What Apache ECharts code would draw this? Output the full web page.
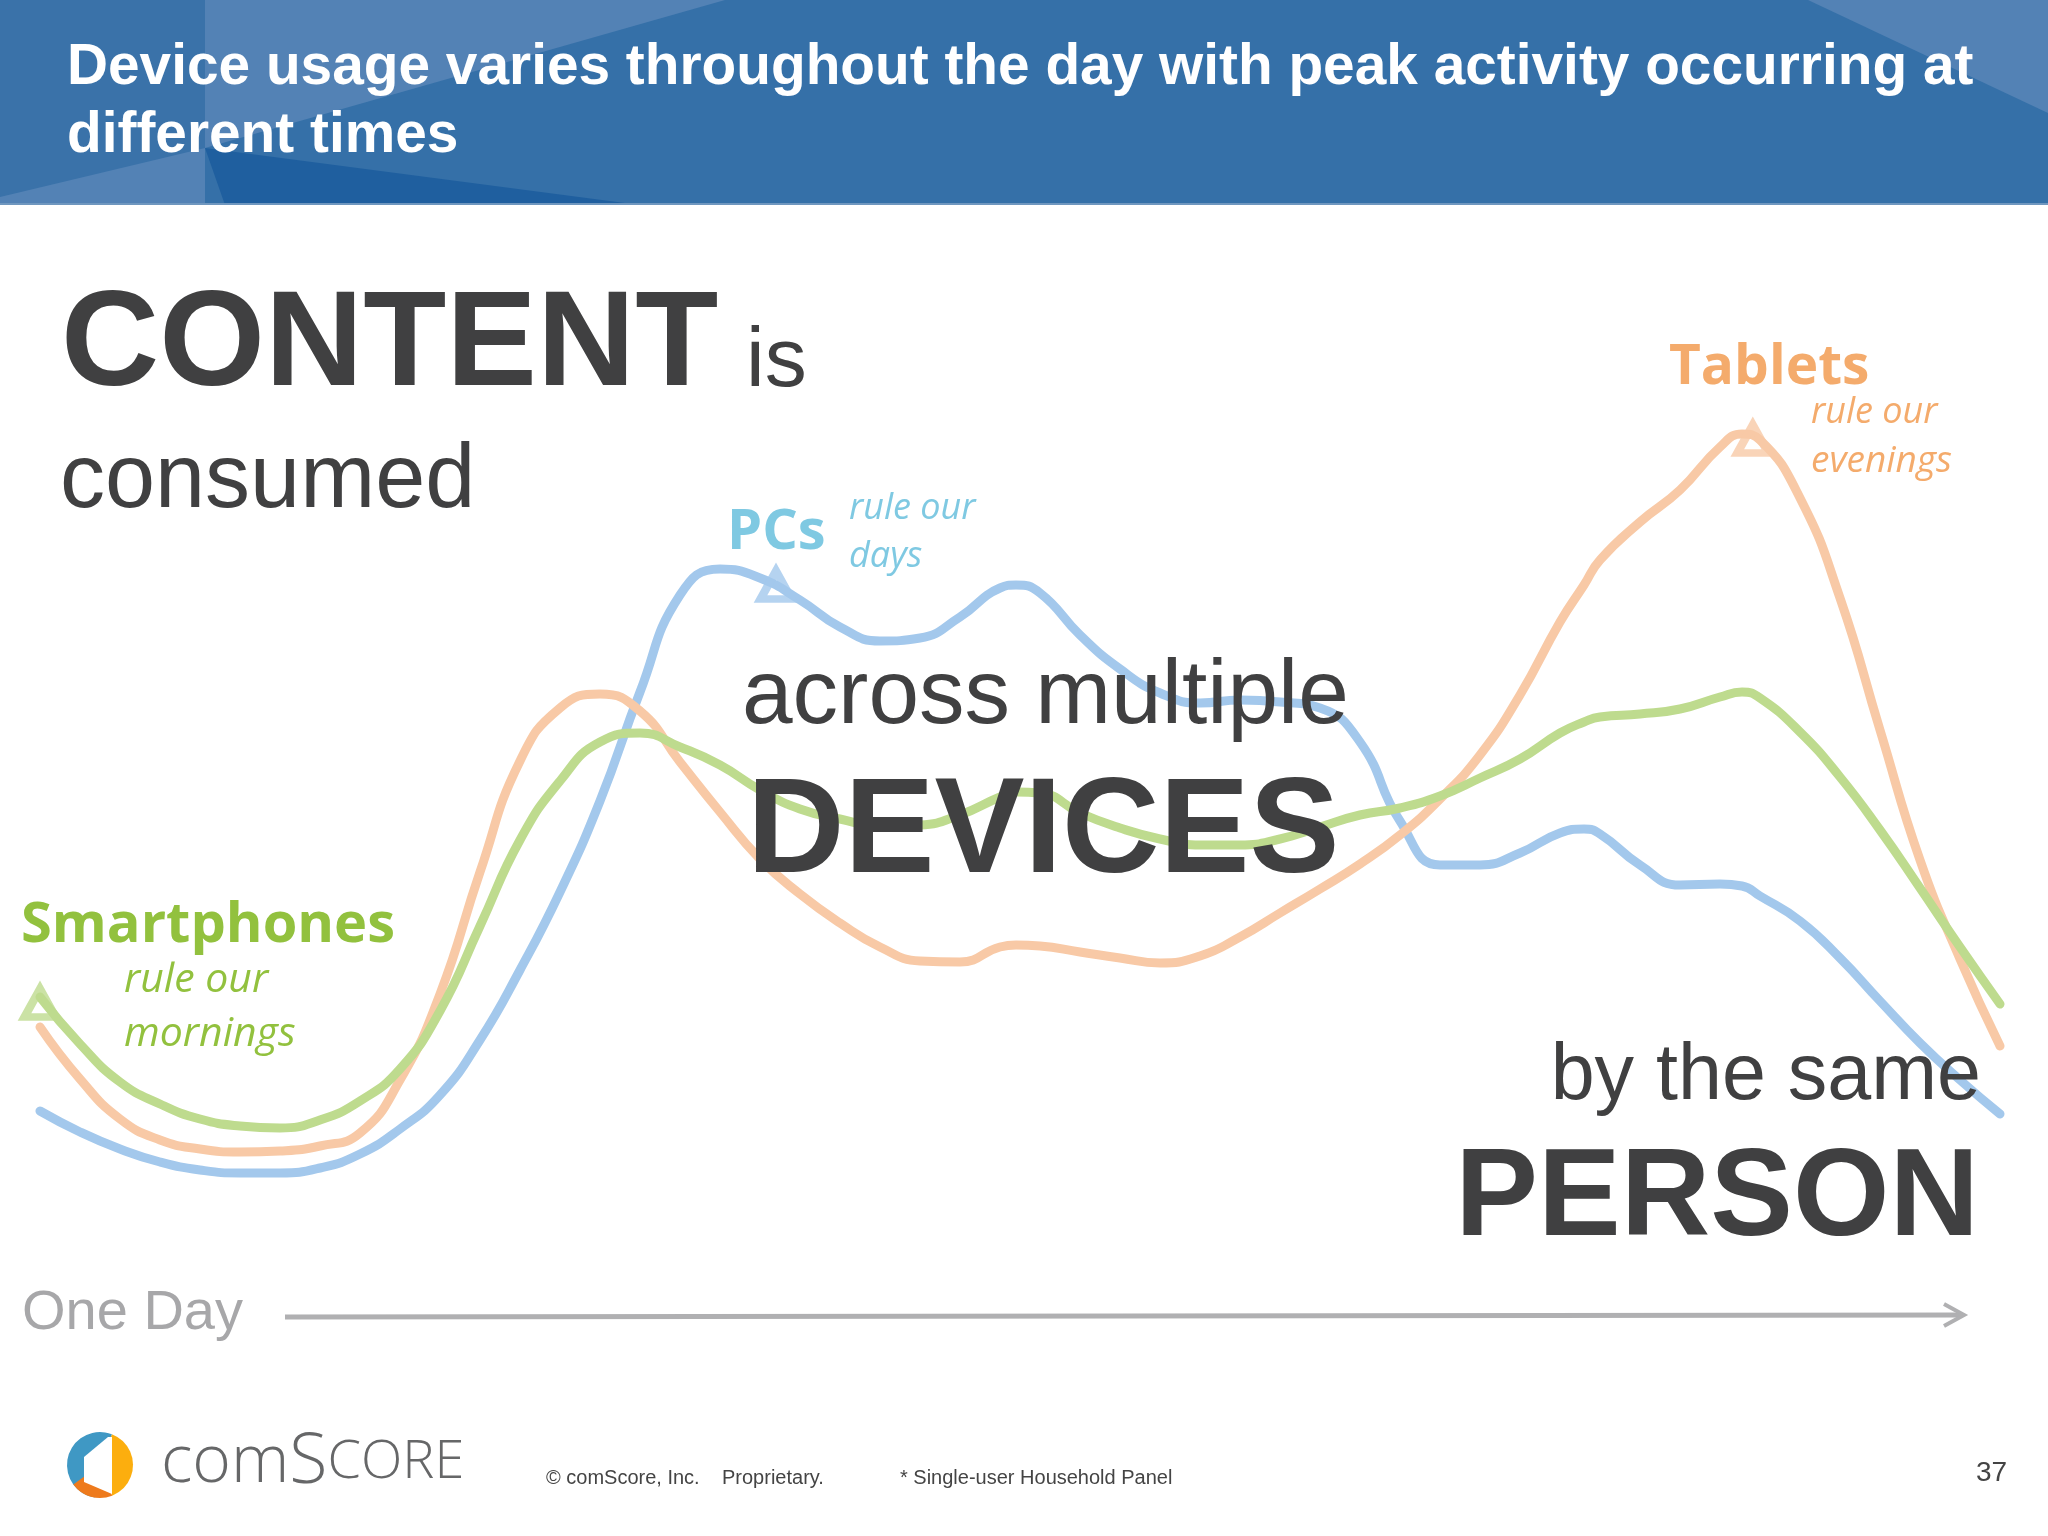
<!doctype html>
<html lang="en">
<head>
<meta charset="UTF-8">
<title>Device usage</title>
<script src="https://cdn.jsdelivr.net/npm/echarts@6/dist/echarts.min.js"></script>
<style>
html,body{margin:0;padding:0;background:#fff}
#main{width:2048px;height:1536px}
</style>
</head>
<body>
<div id="main"></div>
<script>
// time of day, left to right, with extra readings at the humps
var slots = [0,1,2,3,4,5,6,7,8,9,10,11,12,13,14,15,16,17,18,19,20,21,22,23,24,24.4,25,26,27,28,29,30,31,32,33,34,35,36,37,38,38.6,39,40,41,42,42.55,43,44,45,46,47,48,49];
// activity, no unit in the source
var pcs = [425,404,387,374,366,363,363,368,382,407,441,496,566,644,735,844,941,967,958,936,909,895,898,919,948,951,943,901,867,843,833,836,834,828,794,715,671,671,683,703,707,702,671,651,652,650,640,615,578,535,493,456,422];
var tablets = [509,457,417,396,387,384,385,390,403,456,542,664,775,828,842,825,774,724,677,642,613,589,575,574,589,591,590,584,578,573,580,599,623,647,672,701,737,781,841,914,951,976,1014,1046,1089,1102,1096,1038,938,806,676,577,490];
var smartphones = [539,492,454,432,417,410,408,416,435,467,525,610,696,755,794,803,789,771,746,727,717,710,711,721,739,744,743,723,708,697,691,691,697,709,721,728,740,758,777,803,814,819,822,827,839,844,838,804,759,706,648,589,532];
// peak markers: slot, activity
var phonePeak = [0,533];
var pcPeak = [18.4,951];
var tabletPeak = [42.82,1097];

var blue = '#a3c8ec', orange = '#f8c9a6', green = '#bedb8e';
var dark = '#404041';

function zip(xs, ys) {
    return xs.map(function (x, i) { return [x, ys[i]]; });
}
function curve(name, values, color) {
    return {
        name: name, type: 'line', data: zip(slots, values), smooth: 0.5, showSymbol: false,
        lineStyle: {color: color, width: 9, cap: 'round'}, silent: true, animation: false, z: 2
    };
}
function peak(point, color) {
    return {
        type: 'scatter', data: [point], symbol: 'triangle', symbolSize: [31, 28],
        itemStyle: {color: 'rgba(255,255,255,0)', borderColor: color, borderWidth: 8},
        silent: true, animation: false, z: 3
    };
}
// y is the text baseline
function label(text, x, y, size, color, weight, family, align, style) {
    return {
        type: 'text', x: x, y: y - size * 0.8, z: 20,
        style: {
            text: text, fill: color, textAlign: align || 'left',
            font: (style || 'normal') + ' ' + (weight || 'normal') + ' ' + size + 'px ' + (family || '"Liberation Sans"')
        }
    };
}
function poly(points, color, z) {
    return {type: 'polygon', z: z || 1, shape: {points: points}, style: {fill: color}};
}
function wedge(from, to, color, z) {
    return {
        type: 'sector', z: z,
        shape: {cx: 100, cy: 1465, r: 33, r0: 0, startAngle: from * Math.PI, endAngle: to * Math.PI},
        style: {fill: color}
    };
}

var calibri = '"Open Sans"';
var graphics = [
    // header band
    {type: 'rect', z: 0, shape: {x: 0, y: 0, width: 2048, height: 205}, style: {fill: '#3570a8'}},
    poly([[0,0],[205,0],[205,205],[0,205]], '#3a72a9'),
    poly([[205,0],[725,0],[205,148]], '#5382b5'),
    poly([[0,197],[205,148],[205,205],[0,205]], '#5382b5'),
    poly([[205,148],[640,205],[225,205]], '#1f5f9f'),
    poly([[1808,0],[2048,0],[2048,113]], '#5382b5'),
    {type: 'rect', z: 1, shape: {x: 0, y: 203, width: 2048, height: 2}, style: {fill: '#6f97bf'}},
    label('Device usage varies throughout the day with peak activity occurring at', 67, 85, 56.8, '#fff', 'bold'),
    label('different times', 67, 153, 56.8, '#fff', 'bold'),

    // message text
    label('CONTENT', 61, 388, 136, dark, 'bold'),
    label('is', 746, 388, 84, dark),
    label('consumed', 60, 509, 90, dark),
    label('across multiple', 742, 725, 91, dark),
    label('DEVICES', 747, 875, 135, dark, 'bold'),
    label('by the same', 1981, 1101, 79, dark, 'normal', null, 'right'),
    label('PERSON', 1979, 1238, 124, dark, 'bold', null, 'right'),

    // series labels
    label('Smartphones', 21, 943, 56, '#92c13e', 'bold', calibri),
    label('rule our', 124, 993, 41, '#92c13e', 'normal', calibri, 'left', 'italic'),
    label('mornings', 124, 1047, 41, '#92c13e', 'normal', calibri, 'left', 'italic'),
    label('PCs', 727, 550, 56, '#7fc9e2', 'bold', calibri),
    label('rule our', 849, 520, 36, '#7fc9e2', 'normal', calibri, 'left', 'italic'),
    label('days', 849, 568, 36, '#7fc9e2', 'normal', calibri, 'left', 'italic'),
    label('Tablets', 1669, 385, 55, '#f4ab6c', 'bold', calibri),
    label('rule our', 1811, 424, 36, '#f4ab6c', 'normal', calibri, 'left', 'italic'),
    label('evenings', 1811, 473, 37, '#f4ab6c', 'normal', calibri, 'left', 'italic'),

    // time arrow
    label('One Day', 22, 1330, 56, '#a7a7a9'),
    {type: 'line', z: 5, shape: {x1: 285, y1: 1317, x2: 1962, y2: 1315}, style: {stroke: '#b0b0b2', lineWidth: 5}},
    {type: 'polyline', z: 5, shape: {points: [[1944,1304],[1964,1315],[1944,1326]]}, style: {stroke: '#b0b0b2', lineWidth: 4, fill: 'none'}},

    // logo
    wedge(-0.383, 0.38, '#fcae0e', 5),
    wedge(0.55, 1.617, '#3f98c4', 5),
    wedge(0.38, 0.8, '#ee7a1c', 5),
    poly([[108,1437],[84,1457],[84,1482],[112,1494],[112,1437]], '#fff', 6),
    {
        type: 'text', x: 161, y: 1428, z: 20,
        style: {
            text: '{a|com}{b|S}{c|CORE}',
            rich: {
                a: {font: '300 66px "Open Sans"', fill: '#666768'},
                b: {font: '300 70px "Open Sans"', fill: '#666768'},
                c: {font: '300 54px "Open Sans"', fill: '#666768'}
            }
        }
    },

    // footer
    label('\u00a9 comScore, Inc.', 546, 1484, 20, '#444'),
    label('Proprietary.', 722, 1484, 20, '#444'),
    label('* Single-user Household Panel', 900, 1484, 20, '#444'),
    label('37', 1976, 1482, 28, '#444')
];

var chart = echarts.init(document.getElementById('main'));
chart.setOption({
    backgroundColor: '#fff',
    animation: false,
    grid: {left: 40, right: 48, top: 0, bottom: 0},
    xAxis: {type: 'value', min: 0, max: 49, show: false},
    yAxis: {type: 'value', min: 0, max: 1536, show: false},
    series: [
        curve('PCs', pcs, blue),
        curve('Tablets', tablets, orange),
        curve('Smartphones', smartphones, green),
        peak(pcPeak, blue),
        peak(tabletPeak, orange),
        peak(phonePeak, green)
    ],
    graphic: {elements: graphics}
});
</script>
</body>
</html>
